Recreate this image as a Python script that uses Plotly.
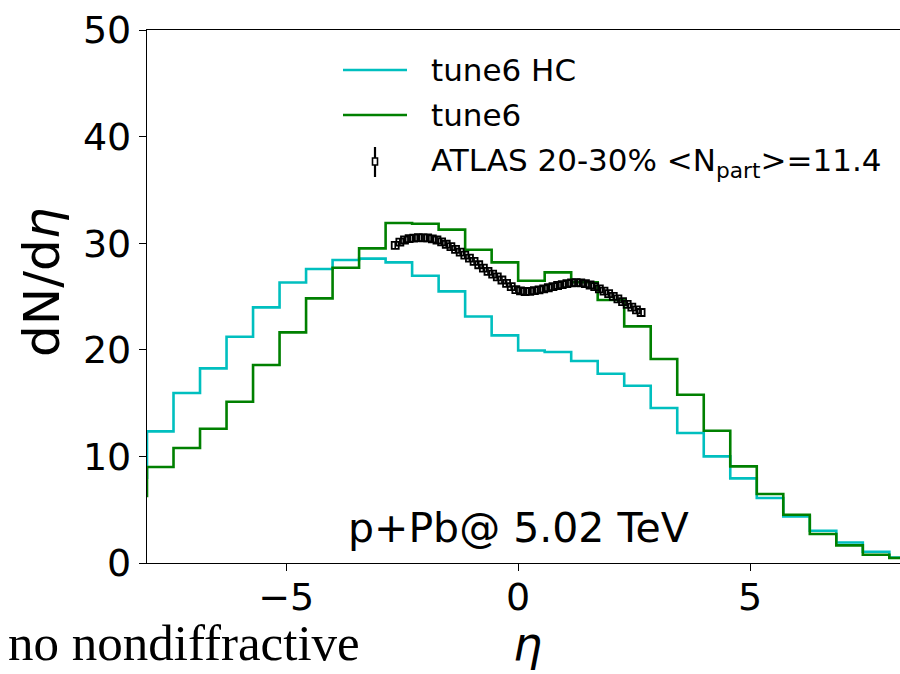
import plotly.graph_objects as go

# Histogram bin edges: 30 bins of width 4/7 from -60/7 to 60/7
bin_width = 4.0 / 7.0
n_bins = 30
bin_edges = [-60.0 / 7.0 + k * bin_width for k in range(n_bins + 1)]

tune6_hc = [8.0, 12.35, 15.95, 18.26, 21.23, 23.98, 26.32, 27.58, 28.42, 28.55,
            28.2, 26.95, 25.48, 23.13, 21.35, 19.94, 19.8, 18.95, 17.75, 16.63,
            14.54, 12.19, 10.0, 7.94, 6.1, 4.37, 3.03, 1.93, 1.06, 0.5]

tune6 = [6.3, 9.0, 10.79, 12.6, 15.13, 18.57, 21.63, 24.82, 27.7, 29.51,
         31.89, 31.83, 31.27, 29.39, 28.2, 26.48, 27.26, 26.33, 24.67, 22.2,
         19.14, 15.79, 12.41, 9.06, 6.47, 4.53, 2.72, 1.65, 0.78, 0.47]

atlas_eta = [-2.65, -2.55, -2.45, -2.35, -2.25, -2.15, -2.05, -1.95, -1.85, -1.75,
             -1.65, -1.55, -1.45, -1.35, -1.25, -1.15, -1.05, -0.95, -0.85, -0.75,
             -0.65, -0.55, -0.45, -0.35, -0.25, -0.15, -0.05, 0.05, 0.15, 0.25,
             0.35, 0.45, 0.55, 0.65, 0.75, 0.85, 0.95, 1.05, 1.15, 1.25,
             1.35, 1.45, 1.55, 1.65, 1.75, 1.85, 1.95, 2.05, 2.15, 2.25,
             2.35, 2.45, 2.55, 2.65]
atlas_val = [29.8, 30.1, 30.3, 30.42, 30.48, 30.52, 30.5, 30.5, 30.4, 30.3,
             30.12, 29.9, 29.67, 29.42, 29.17, 28.88, 28.6, 28.3, 27.98, 27.67,
             27.36, 27.1, 26.85, 26.55, 26.23, 25.92, 25.65, 25.52, 25.47, 25.48,
             25.55, 25.62, 25.72, 25.82, 25.93, 26.03, 26.12, 26.2, 26.27, 26.3,
             26.28, 26.2, 26.08, 25.92, 25.72, 25.5, 25.27, 25.02, 24.78, 24.52,
             24.27, 24.0, 23.75, 23.5]
atlas_err = [0.3, 0.3, 0.3, 0.3, 0.3, 0.3, 0.3, 0.3, 0.3, 0.3,
             0.3, 0.3, 0.3, 0.3, 0.3, 0.3, 0.3, 0.3, 0.3, 0.3,
             0.3, 0.3, 0.3, 0.3, 0.3, 0.3, 0.3, 0.3, 0.3, 0.3,
             0.3, 0.3, 0.3, 0.3, 0.3, 0.3, 0.3, 0.3, 0.3, 0.3,
             0.3, 0.3, 0.3, 0.3, 0.3, 0.3, 0.3, 0.3, 0.3, 0.3,
             0.3, 0.3, 0.3, 0.3]

series_names = ["tune6 HC", "tune6", "ATLAS 20-30% &lt;N<sub>part</sub>&gt;=11.4"]
series_colors = ["#00BFBF", "#008000", "black"]

FONT = "DejaVu Sans"

# plot-area geometry in pixels (for placing the hand-made legend)
W, H = 900, 674
ML, MR, MT, MB = 147, 0, 30, 111
PW = W - ML - MR
PH = H - MT - MB


def px_x(px):
    return (px - ML) / PW


def px_y(py):
    return (H - MB - py) / PH


def step_xy(edges, vals):
    return list(edges), list(vals) + [vals[-1]]


fig = go.Figure()
x_hc, y_hc = step_xy(bin_edges, tune6_hc)
fig.add_trace(go.Scatter(x=x_hc, y=y_hc, mode="lines", line_shape="hv",
                         line=dict(color=series_colors[0], width=2.6), name=series_names[0]))
x_t6, y_t6 = step_xy(bin_edges, tune6)
fig.add_trace(go.Scatter(x=x_t6, y=y_t6, mode="lines", line_shape="hv",
                         line=dict(color=series_colors[1], width=2.6), name=series_names[1]))
fig.add_trace(go.Scatter(x=atlas_eta, y=atlas_val, mode="markers",
                         marker=dict(symbol="square-open", size=7, color="black",
                                     line=dict(width=1.8, color="black")),
                         error_y=dict(type="data", array=atlas_err, color="black",
                                      thickness=1.6, width=0),
                         name=series_names[2]))

# hand-made legend (matplotlib style)
leg_rows = [70, 115, 162]
for i, (name, col) in enumerate(zip(series_names, series_colors)):
    yy = px_y(leg_rows[i])
    if i < 2:
        fig.add_shape(type="line", xref="paper", yref="paper",
                      x0=px_x(343), x1=px_x(407), y0=yy, y1=yy,
                      line=dict(color=col, width=2.6))
    else:
        fig.add_shape(type="line", xref="paper", yref="paper",
                      x0=px_x(375), x1=px_x(375), y0=px_y(147), y1=px_y(177),
                      line=dict(color=col, width=2.2))
        fig.add_shape(type="rect", xref="paper", yref="paper",
                      x0=px_x(372.5), x1=px_x(377.5), y0=px_y(158), y1=px_y(165),
                      line=dict(color=col, width=1.6), fillcolor="white")
    fig.add_annotation(x=px_x(429), y=yy, xref="paper", yref="paper", text=name,
                       xanchor="left", yanchor="middle", showarrow=False,
                       font=dict(family=FONT, size=31, color="black"))

fig.add_annotation(x=0.0, y=3.3, xref="x", yref="y", text="p+Pb@ 5.02 TeV",
                   showarrow=False, font=dict(family=FONT, size=41, color="black"))
fig.add_annotation(x=px_x(6), y=px_y(673), xref="paper", yref="paper",
                   text="no nondiffractive", xanchor="left", yanchor="bottom",
                   showarrow=False,
                   font=dict(family="Liberation Serif", size=51, color="black"))
# axis titles
fig.add_annotation(x=px_x(42), y=px_y(283), xref="paper", yref="paper",
                   text="dN/d<i>η</i>", textangle=-90, showarrow=False,
                   xanchor="center", yanchor="middle",
                   font=dict(family=FONT, size=50, color="black"))
fig.add_annotation(x=px_x(527), y=px_y(673), xref="paper", yref="paper",
                   text="<i>η</i>", showarrow=False,
                   xanchor="center", yanchor="bottom",
                   font=dict(family=FONT, size=46, color="black"))

fig.update_layout(
    width=W, height=H,
    margin=dict(l=ML, r=MR, t=MT, b=MB),
    paper_bgcolor="white", plot_bgcolor="white",
    font=dict(family=FONT, color="black"),
    showlegend=False,
    xaxis=dict(range=[-8, 8.23], tickvals=[-5, 0, 5], ticks="outside", ticklen=7,
               tickwidth=1.2, tickcolor="black", showline=True, linecolor="black",
               linewidth=1.2, mirror=True, showgrid=False, zeroline=False,
               tickfont=dict(family=FONT, size=38), ticklabelstandoff=-7),
    yaxis=dict(range=[0, 50], tickvals=[0, 10, 20, 30, 40, 50], ticks="outside",
               ticklen=7, tickwidth=1.2, tickcolor="black", showline=True,
               linecolor="black", linewidth=1.2, mirror=False, showgrid=False,
               zeroline=False, tickfont=dict(family=FONT, size=38)),
)

fig.write_html("out.html")
